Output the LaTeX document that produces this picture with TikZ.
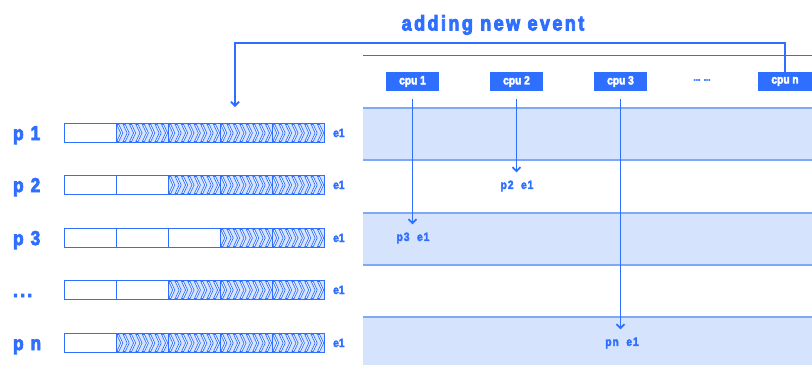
\documentclass[tikz,border=0pt]{standalone}
\usepackage{fontspec}
\setmainfont{Liberation Sans}
\newfontfamily\evfont{Liberation Sans Bold}[FakeStretch=0.85, FakeBold=4, LetterSpace=12]
\newfontfamily\evwide{Liberation Sans Bold}[FakeStretch=0.85, FakeBold=3, LetterSpace=8, WordSpace=2]
\newfontfamily\evtight{Liberation Sans Bold}[FakeStretch=0.85, FakeBold=3]
\usetikzlibrary{arrows.meta,positioning}
\definecolor{evblue}{RGB}{47,111,255}
\definecolor{evlight}{RGB}{214,227,252}
\definecolor{evline}{RGB}{128,168,248}
\newcommand\qdots{...}

\begin{document}
\begin{tikzpicture}[x=1pt, y=-1pt,
  title/.style={font=\evfont\fontsize{21}{21}\selectfont, text=evblue, inner sep=0},
  rowlbl/.style={font=\evfont\fontsize{20}{20}\selectfont, text=evblue, inner sep=0, anchor=base west},
  elbl/.style={font=\evtight\fontsize{12}{12}\selectfont, text=evblue, inner sep=0, anchor=base west},
  evlbl/.style={font=\evwide\fontsize{12}{12}\selectfont, text=evblue, inner xsep=0, inner ysep=8pt},
  cpubox/.style={fill=evblue, text=white, font=\evtight\fontsize{12}{12}\selectfont,
    minimum width=53pt, minimum height=19pt, inner sep=0},
  bar/.style={draw=evblue, line width=0.9pt, minimum width=260pt, minimum height=19pt, inner sep=0},
  chev/.style={fill=white, draw=evblue, line width=0.7pt, line join=miter},
  arrow/.style={evblue, line width=1.8pt, -{Straight Barb[length=4pt,width=8pt]}}
]
\useasboundingbox (0,0) rectangle (812,365);

% cpu table
\fill[evlight] (363,108) rectangle (812,160);
\fill[evlight] (363,213) rectangle (812,265);
\fill[evlight] (363,317) rectangle (812,365);
\draw[evblue, line width=1pt] (363,55) -- (812,55);
\foreach \yy in {108,160,213,265,317}
  \draw[evline, line width=1.5pt] (363,\yy) -- (812,\yy);

\node[title] (title) at (493,25) {adding new event};

\node[cpubox] (cpu1) at (412.5,81.5) {cpu 1};
\node[cpubox] (cpu2) at (516.5,81.5) {cpu 2};
\node[cpubox] (cpu3) at (620.5,81.5) {cpu 3};
\node[cpubox, minimum width=54pt] (cpun) at (785,81.5) {cpu n};
\node[font=\evtight\fontsize{10}{10}\selectfont, text=evblue, inner sep=0] (dots) at (702,80) {\qdots{} \qdots};

% process queues
\foreach \r/\yy/\w/\name in {1/133/1/p 1, 2/185/2/p 2, 3/238/3/p 3, 4/290/2/\qdots, 5/343/1/p n} {
  \node[rowlbl] (lbl\r) at (13,\yy+7) {\name};
  \foreach \s in {0,...,4} {
    \ifnum\s<\w\else
      \fill[evlight] (64+52*\s,\yy-9.5) rectangle ++(52,19);
      \foreach \c in {0,...,7}
        \draw[chev] ({64+52*\s+0.8+6.4*\c},\yy-8.5) -- ++(2,0) -- ++(4,8.5) -- ++(-4,8.5)
          -- ++(-2,0) -- ++(4,-8.5) -- cycle;
    \fi
    \ifnum\s>0
      \draw[evblue, line width=0.9pt] (64+52*\s,\yy-9.5) -- ++(0,19);
    \fi
  }
  \node[bar] (bar\r) at (194,\yy) {};
  \node[elbl] (e\r) at (333,\yy+4) {e1};
}

% dispatched events
\node[evlbl] (p2e1) at (517,186) {p2 e1};
\node[evlbl] (p3e1) at (413,238) {p3 e1};
\node[evlbl] (pne1) at (622,343) {pn e1};

\draw[arrow, shorten <=8pt] (cpu1.south) -- (cpu1.south |- p3e1.north);
\draw[arrow, shorten <=8pt] (cpu2.south) -- (cpu2.south |- p2e1.north);
\draw[arrow, shorten <=8pt] (cpu3.south) -- (cpu3.south |- pne1.north);

% new event back to queue
\coordinate (turn) at (235,43);
\coordinate (fb) at (235,107);
\draw[arrow] (cpun.north) |- (turn) -- (fb);
\end{tikzpicture}
\end{document}
